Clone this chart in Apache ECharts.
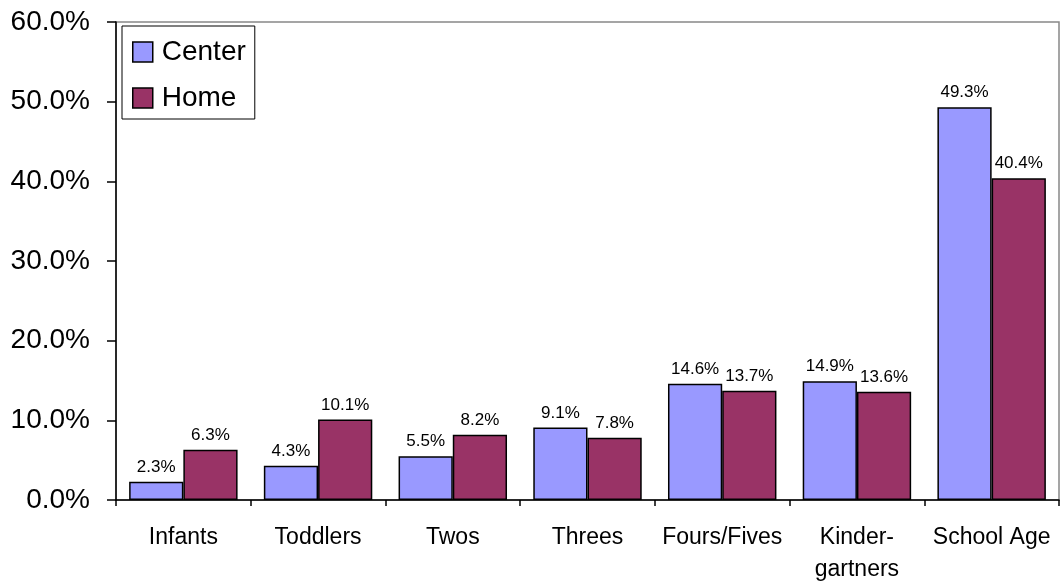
<!DOCTYPE html>
<html><head><meta charset="utf-8">
<script src="https://cdn.jsdelivr.net/npm/echarts@6/dist/echarts.min.js"></script>
<style>html,body{margin:0;padding:0;background:#fff}#c{width:1060px;height:582px}</style>
</head><body><div id="c"></div>
<script>
var categories = ['Infants','Toddlers','Twos','Threes','Fours/Fives','Kinder-\ngartners','School Age'];
var centerValues = [2.3, 4.3, 5.5, 9.1, 14.6, 14.9, 49.3];
var homeValues = [6.3, 10.1, 8.2, 7.8, 13.7, 13.6, 40.4];
var seriesNames = ['Center','Home'];
var yTicks = [0, 10, 20, 30, 40, 50, 60];

var FONT = '"Liberation Sans", Arial, sans-serif';
var chart = echarts.init(document.getElementById('c'), null, {renderer:'canvas'});
function lbl(p){ return p.value.toFixed(1) + '%'; }
chart.setOption({
  animation:false,
  backgroundColor:'#fff',
  grid:{left:116, right:1, top:22, bottom:82, show:true, borderColor:'#888', borderWidth:1.5,
        containLabel:false, outerBoundsMode:'none'},
  legend:{
    orient:'vertical', left:122, top:26,
    data:seriesNames,
    backgroundColor:'#fff',
    borderColor:'#000', borderWidth:1,
    padding:[12,9,7,10],
    itemWidth:20, itemHeight:20, itemGap:18,
    icon:'rect',
    itemStyle:{borderColor:'#000', borderWidth:1.5},
    textStyle:{fontFamily:FONT, fontSize:28, color:'#000', lineHeight:28, padding:[0,0,0,4]}
  },
  xAxis:{
    type:'category', data:categories,
    axisLine:{lineStyle:{color:'#000', width:1.5}},
    axisTick:{show:true, length:6, alignWithLabel:false, lineStyle:{color:'#000', width:1.5}},
    axisLabel:{fontFamily:FONT, fontSize:23, color:'#000', margin:22, lineHeight:32, interval:0}
  },
  yAxis:{
    type:'value', min:0, max:60, interval:10,
    axisLine:{show:true, lineStyle:{color:'#000', width:1.5}},
    axisTick:{show:true, length:9, lineStyle:{color:'#000', width:1.5}},
    splitLine:{show:false},
    axisLabel:{fontFamily:FONT, fontSize:28, color:'#000', margin:26,
      formatter:function(v){ return yTicks.indexOf(v) >= 0 ? v.toFixed(1) + '%' : ''; }}
  },
  series:[
    {name:seriesNames[0], type:'bar', data:centerValues, barGap:'0%', barCategoryGap:'19.5%',
     itemStyle:{color:'#9999FF', borderColor:'#000', borderWidth:1.5},
     label:{show:true, position:'top', distance:6, formatter:lbl, fontFamily:FONT, fontSize:17, color:'#000'}},
    {name:seriesNames[1], type:'bar', data:homeValues, barGap:'0%', barCategoryGap:'19.5%',
     itemStyle:{color:'#993366', borderColor:'#000', borderWidth:1.5},
     label:{show:true, position:'top', distance:6, formatter:lbl, fontFamily:FONT, fontSize:17, color:'#000'}}
  ]
});
</script></body></html>
